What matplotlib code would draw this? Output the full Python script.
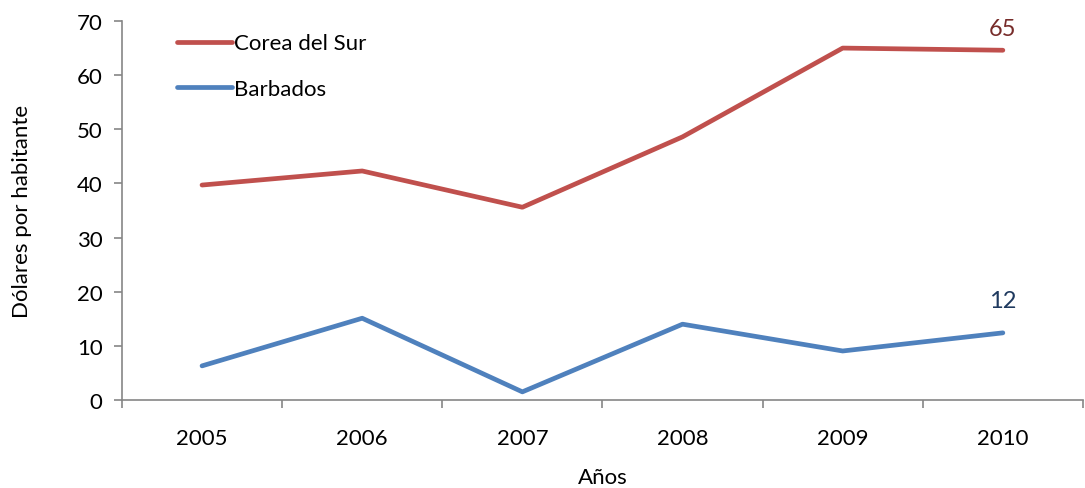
import matplotlib.pyplot as plt
import numpy as np

plt.rcParams['font.family'] = ['Lato', 'DejaVu Sans']

years = ['2005', '2006', '2007', '2008', '2009', '2010']
corea = [39.7, 42.3, 35.6, 48.6, 65.0, 64.6]
barbados = [6.3, 15.1, 1.5, 14.0, 9.05, 12.4]

red = '#C0504D'
blue = '#4F81BD'
grey = '#868686'

fig = plt.figure(figsize=(10.85, 4.89), dpi=100)
ax = fig.add_axes([0.1124, 0.180, 0.8857, 0.775])

x = np.arange(len(years))
ax.plot(x, corea, color=red, lw=3.4, solid_capstyle='round', solid_joinstyle='round', label='Corea del Sur')
ax.plot(x, barbados, color=blue, lw=3.4, solid_capstyle='round', solid_joinstyle='round', label='Barbados')

# data labels on last point
ax.annotate(f'{round(corea[-1])}', (x[-1], corea[-1]), xytext=(0, 8), textcoords='offset points',
            ha='center', va='bottom', fontsize=17, color='#772C2A')
ax.annotate(f'{round(barbados[-1])}', (x[-1], barbados[-1]), xytext=(0, 16), textcoords='offset points',
            ha='center', va='bottom', fontsize=17, color='#1F3A5F')

ax.set_xlim(-0.5, len(years) - 0.5)
ax.set_ylim(0, 70)
ax.set_yticks(range(0, 71, 10))
ax.set_xticks(np.arange(len(years) + 1) - 0.5)
ax.set_xticklabels([])
ax.set_xticks(x, minor=True)
ax.set_xticklabels(years, minor=True)
ax.tick_params(axis='x', which='minor', length=0, pad=20, labelsize=16)
ax.tick_params(axis='x', which='major', length=6, color=grey, width=1.2)
ax.tick_params(axis='y', length=6, color=grey, width=1.2, labelsize=16, pad=8)

for s in ['top', 'right']:
    ax.spines[s].set_visible(False)
for s in ['left', 'bottom']:
    ax.spines[s].set_color(grey)
    ax.spines[s].set_linewidth(1.2)

ax.set_xlabel('Años', fontsize=16, labelpad=14)
ax.set_ylabel('Dólares por habitante', fontsize=16, labelpad=32)

ax.legend(loc='upper left', bbox_to_anchor=(0.036, 1.02), frameon=False, fontsize=16,
          handlelength=2.5, handletextpad=0.1, labelspacing=1.15)

fig.savefig('out.png', dpi=100)
